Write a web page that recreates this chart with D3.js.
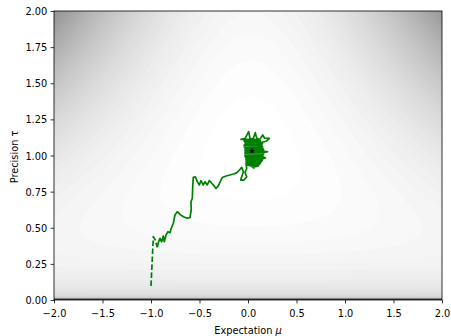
<!DOCTYPE html>
<html>
<head>
<meta charset="utf-8">
<script src="https://cdn.jsdelivr.net/npm/d3@7"></script>
<style>
  body { margin: 0; background: #fff; }
  svg { display: block; font-family: "DejaVu Sans", sans-serif; }
</style>
</head>
<body>
<div id="chart"></div>
<script>
// sampler trace (expectation mu, precision tau)
const muTrace = [
  // burn-in climb
  -1.000, -0.976, -0.956, -0.935, -0.925, -0.907, -0.890, -0.873, -0.863, -0.845,
  -0.825, -0.804, -0.791, -0.770, -0.753, -0.729, -0.701, -0.667, -0.632, -0.598,
  -0.585, -0.588, -0.574, -0.570, -0.564, -0.543, -0.523, -0.502, -0.485, -0.461,
  -0.443, -0.420, -0.399, -0.374, -0.350, -0.330, -0.305, -0.289, -0.265, -0.225,
  -0.186, -0.150, -0.117, -0.090, -0.065, -0.048, -0.065, -0.075, -0.041, -0.013,
  -0.031, -0.013, -0.021,
  // tangle around the mode
  0.062, 0.030, 0.080, 0.110, 0.000, -0.010, 0.120, 0.130, -0.010, -0.020, 0.140,
  0.150, -0.020, -0.020, 0.160, 0.180, 0.160, -0.030, -0.030, 0.150, 0.160, -0.030,
  -0.030, 0.170, 0.203, 0.160, -0.030, -0.030, 0.160, 0.150, -0.030, -0.040, 0.150,
  0.140, -0.040, -0.030, 0.150, 0.140, -0.030, -0.040, 0.130, 0.110, -0.020,
  -0.072, -0.030, 0.007, 0.020, 0.050, 0.075, 0.090, 0.120, 0.152, 0.170, 0.220,
  0.190, 0.140, 0.080, 0.060, 0.040
]
const tauTrace = [
  0.097, 0.438, 0.415, 0.365, 0.397, 0.427, 0.403, 0.443, 0.403, 0.450,
  0.473, 0.466, 0.496, 0.531, 0.588, 0.611, 0.593, 0.576, 0.567, 0.570,
  0.623, 0.680, 0.704, 0.784, 0.849, 0.853, 0.819, 0.796, 0.826, 0.796,
  0.819, 0.796, 0.826, 0.808, 0.790, 0.772, 0.790, 0.815, 0.848, 0.858,
  0.865, 0.872, 0.880, 0.898, 0.918, 0.888, 0.853, 0.830, 0.830, 0.853,
  0.881, 0.911, 0.946,
  0.913, 0.925, 0.922, 0.930, 0.932, 0.940, 0.941, 0.950, 0.951, 0.960, 0.960,
  0.970, 0.971, 0.980, 0.980, 0.983, 0.990, 0.991, 1.000, 1.000, 1.010, 1.011,
  1.020, 1.021, 1.026, 1.030, 1.031, 1.040, 1.041, 1.050, 1.051, 1.060, 1.060,
  1.070, 1.071, 1.080, 1.081, 1.090, 1.091, 1.100, 1.101, 1.110, 1.112,
  1.112, 1.118, 1.165, 1.120, 1.110, 1.158, 1.120, 1.110, 1.142, 1.120, 1.119,
  1.100, 1.090, 1.060, 1.040, 1.030
]
// the first jumps of the chain are drawn dashed
const dashedSteps = 4

// marked estimate (black star)
const starMu = [0.041]
const starTau = [1.031]

// statistics of the observed sample behind the shaded log-likelihood
const sampleMean = 0.03
const sampleVar = 0.95

const muTicks = [-2.0, -1.5, -1.0, -0.5, 0.0, 0.5, 1.0, 1.5, 2.0]
const tauTicks = [0.00, 0.25, 0.50, 0.75, 1.00, 1.25, 1.50, 1.75, 2.00]

const width = 451, height = 336
const plot = { left: 54, right: 442, top: 11, bottom: 300 }
const fontSize = 9.8
const tickLen = 3.4

const svg = d3.select('#chart').append('svg')
    .attr('width', width)
    .attr('height', height)

const x = d3.scaleLinear()
    .domain([-2, 2])
    .range([plot.left, plot.right])
const y = d3.scaleLinear()
    .domain([0, 2])
    .range([plot.bottom, plot.top])

svg.append('clipPath')
    .attr('id', 'plot-clip')
  .append('rect')
    .attr('x', plot.left)
    .attr('y', plot.top)
    .attr('width', plot.right - plot.left)
    .attr('height', plot.bottom - plot.top)

// ---- shaded log-likelihood (filled contours, grey colormap) ----
// tau enters as an inverse standard deviation: log tau - tau^2 (s2 + (mu - m)^2) / 2
const nx = 161, ny = 101
const peak = -0.5 * Math.log(sampleVar) - 0.5
const floorLevel = peak - 21
function logLik(mu, tau) {
    if (tau <= 0) return floorLevel
    const v = Math.log(tau) - tau * tau * (sampleVar + (mu - sampleMean) ** 2) / 2
    return Math.max(floorLevel, v)
}
const values = new Array(nx * ny)
for (let j = 0; j < ny; j++) {
    const tau = 2 * j / (ny - 1)
    for (let i = 0; i < nx; i++) {
        const mu = -2 + 4 * i / (nx - 1)
        values[j * nx + i] = logLik(mu, tau)
    }
}
const step = 0.2
const lo = Math.floor(floorLevel / step) * step
const levels = d3.range(lo, peak, step)
const grey = d3.scaleLinear()
    .domain([lo + step / 2, levels[levels.length - 1] + step / 2])
    .range([0, 255])
    .clamp(true)

const gx = d3.scaleLinear().domain([0.5, nx - 0.5]).range([x(-2), x(2)])
const gy = d3.scaleLinear().domain([0.5, ny - 0.5]).range([y(0), y(2)])
const gridPath = d3.geoPath(d3.geoTransform({
    point: function(px, py) { this.stream.point(gx(px), gy(py)) }
}))

const contours = d3.contours()
    .size([nx, ny])
    .thresholds(levels)(values)

svg.append('g')
    .attr('class', 'loglik')
    .attr('clip-path', 'url(#plot-clip)')
  .selectAll('path')
  .data(contours)
  .join('path')
    .attr('d', gridPath)
    .attr('fill', d => {
        const g = Math.round(grey(d.value + step / 2))
        return `rgb(${g},${g},${g})`
    })

// ---- sampler trace ----
const line = d3.line()
    .x(i => x(muTrace[i]))
    .y(i => y(tauTrace[i]))
const idx = d3.range(muTrace.length)

const trace = svg.append('g')
    .attr('class', 'trace')
    .attr('clip-path', 'url(#plot-clip)')
    .attr('fill', 'none')
    .attr('stroke', '#008000')
    .attr('stroke-width', 1.7)
    .attr('stroke-linejoin', 'round')

trace.append('path')
    .attr('d', line(idx.slice(0, dashedSteps)))
    .attr('stroke-dasharray', '5.6,2.4')
trace.append('path')
    .attr('d', line(idx.slice(dashedSteps - 1)))

svg.append('g')
  .selectAll('path')
  .data(starMu)
  .join('path')
    .attr('transform', (d, k) => `translate(${x(d)},${y(starTau[k])})`)
    .attr('d', d3.symbol(d3.symbolStar, 11.5))
    .attr('fill', '#000')

// ---- axes ----
const xAxis = d3.axisBottom(x)
    .tickValues(muTicks)
    .tickFormat(d3.format('.1f'))
    .tickSize(tickLen)
    .tickPadding(3.4)
const yAxis = d3.axisLeft(y)
    .tickValues(tauTicks)
    .tickFormat(d3.format('.2f'))
    .tickSize(tickLen)
    .tickPadding(3.4)

svg.append('g')
    .attr('transform', `translate(0,${plot.bottom})`)
    .call(xAxis)
    .call(g => g.select('.domain').remove())
    .call(g => g.selectAll('.tick line').attr('stroke', '#000').attr('stroke-width', 0.8))
    .call(g => g.selectAll('.tick text')
        .attr('fill', '#000')
        .attr('font-size', fontSize)
        .attr('font-family', '"DejaVu Sans", sans-serif')
        .attr('dy', null)
        .attr('y', 17))

svg.append('g')
    .attr('transform', `translate(${plot.left},0)`)
    .call(yAxis)
    .call(g => g.select('.domain').remove())
    .call(g => g.selectAll('.tick line').attr('stroke', '#000').attr('stroke-width', 0.8))
    .call(g => g.selectAll('.tick text')
        .attr('fill', '#000')
        .attr('font-size', fontSize)
        .attr('font-family', '"DejaVu Sans", sans-serif')
        .attr('dy', '0.36em'))

// frame
svg.append('rect')
    .attr('x', plot.left)
    .attr('y', plot.top)
    .attr('width', plot.right - plot.left)
    .attr('height', plot.bottom - plot.top)
    .attr('fill', 'none')
    .attr('stroke', '#000')
    .attr('stroke-width', 0.8)

// axis labels
const xLabel = svg.append('text')
    .attr('x', (plot.left + plot.right) / 2)
    .attr('y', 334)
    .attr('text-anchor', 'middle')
    .attr('font-size', fontSize)
xLabel.append('tspan').text('Expectation ')
xLabel.append('tspan').attr('font-style', 'italic').text('μ')

svg.append('text')
    .attr('transform', `translate(17.5,157) rotate(-90)`)
    .attr('text-anchor', 'middle')
    .attr('font-size', fontSize)
    .text('Precision τ')
</script>
</body>
</html>
